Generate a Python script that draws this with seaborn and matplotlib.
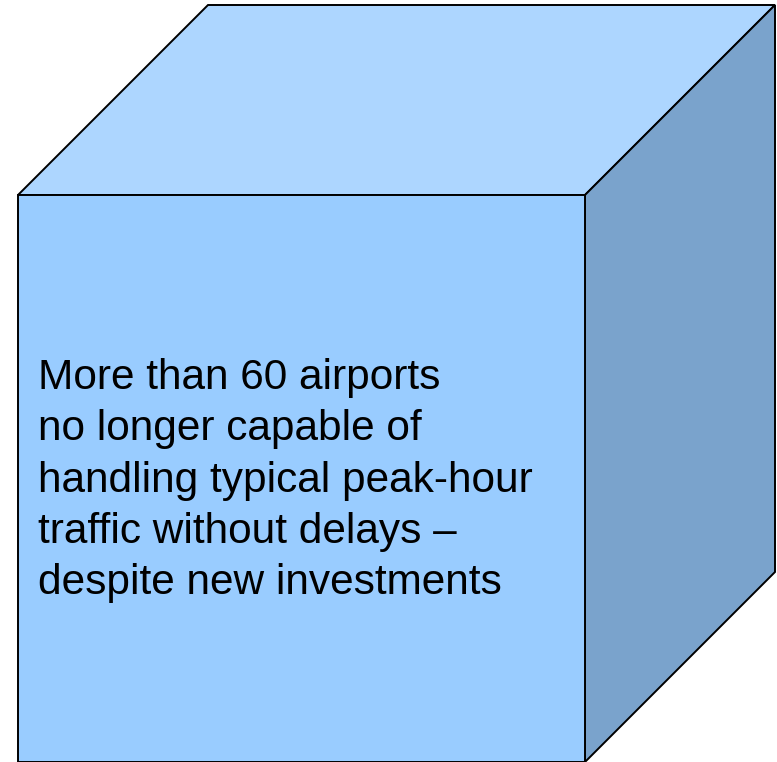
import matplotlib.pyplot as plt
import seaborn as sns
from matplotlib.patches import Polygon

sns.set_theme(style="white")
plt.rcParams['font.family'] = ['Liberation Sans', 'DejaVu Sans']

# cube geometry (pixel units, y downward)
front_left = 18
front_top = 195
side = 567
depth = 190

face_names = ['top', 'right', 'front']
face_colors = ['#ADD6FF', '#7AA3CC', '#99CCFF']

text_lines = [
    'More than 60 airports',
    'no longer capable of',
    'handling typical peak-hour',
    'traffic without delays \u2013',
    'despite new investments',
]
first_baseline = 389
line_step = 51.3

fig = plt.figure(figsize=(7.77, 7.62), dpi=100)
ax = fig.add_axes([0, 0, 1, 1])
ax.set_xlim(0, 777)
ax.set_ylim(762, 0)
ax.axis('off')

L, T, R, B = front_left, front_top, front_left + side, front_top + side
faces = {
    'top': [(L, T), (L + depth, T - depth), (R + depth, T - depth), (R, T)],
    'right': [(R, T), (R + depth, T - depth), (R + depth, B - depth), (R, B)],
    'front': [(L, T), (R, T), (R, B), (L, B)],
}
for name, col in zip(face_names, face_colors):
    ax.add_patch(Polygon(faces[name], closed=True, facecolor=col,
                         edgecolor='black', lw=1.4, joinstyle='miter'))

for i, line in enumerate(text_lines):
    ax.text(38, first_baseline + i * line_step, line, fontsize=30.5,
            color='black', va='baseline', ha='left')

fig.savefig('out.png', dpi=100)
